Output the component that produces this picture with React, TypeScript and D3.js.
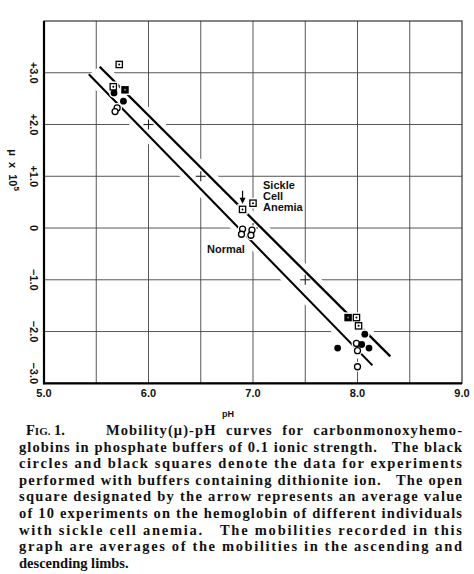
import React from 'react';
import * as d3 from 'd3';

// axes
const xTicks = [5, 6, 7, 8, 9];
const xTickLabels = ['5.0', '6.0', '7.0', '8.0', '9.0'];
const xGrid = [5.5, 6, 6.5, 7, 7.5, 8, 8.5];
const yTicks = [3, 2, 1, 0, -1, -2, -3];
const yTickLabels = ['+3.0', '+2.0', '+1.0', '0', '\u22121.0', '\u22122.0', '\u22123.0'];
const yGrid = [3, 2, 1, 0, -1, -2];

// fitted lines [pH, mobility]
const sickleLine = [[5.533, 3.115], [8.314, -2.48]];
const normalLine = [[5.429, 2.971], [8.143, -2.654]];

// measured points [pH, mobility]
const openSquares = [[5.72, 3.16], [5.663, 2.73], [6.9, 0.36], [7.0, 0.48], [7.99, -1.73], [8.01, -1.89]];
const filledSquares = [[5.775, 2.67], [7.91, -1.73]];
const filledCircles = [[5.67, 2.61], [5.76, 2.45], [8.07, -2.05], [8.04, -2.25], [7.81, -2.32], [8.11, -2.32]];
const openCircles = [
  [5.7, 2.32], [5.68, 2.25],
  [6.9, -0.02], [6.89, -0.12], [6.99, -0.04], [6.98, -0.14],
  [7.99, -2.23], [8.0, -2.37], [8.0, -2.68],
];
const bandCrosses = [[6, 2], [6.5, 1], [7, 0], [7.5, -1]];
const arrow = [6.9, 0.72, 0.47]; // pH, from, to

const captionLines = [
  'Mobility(\u03bc)-pH  curves  for  carbonmonoxyhemo-',
  'globins in phosphate buffers of 0.1 ionic strength.   The black',
  'circles and black squares denote the data for experiments',
  'performed with buffers containing dithionite ion.   The open',
  'square designated by the arrow represents an average value',
  'of 10 experiments on the hemoglobin of different individuals',
  'with sickle cell anemia.   The mobilities recorded in this',
  'graph are averages of the mobilities in the ascending and',
  'descending limbs.',
];

const W = 474;
const H = 574;
const sans = '"Liberation Sans", Arial, sans-serif';
const serif = '"Liberation Serif", "Times New Roman", serif';

const x = d3.scaleLinear().domain([5, 9]).range([44, 462]);
const y = d3.scaleLinear().domain([-3, 4]).range([383.3, 21]);

const App = () => {
  const line = d3.line<number[]>().x(d => x(d[0])).y(d => y(d[1]));

  // white band between the two lines (grid is interrupted there)
  const off = (pts: number[][], m: number) => {
    const [a, b] = pts.map(p => [x(p[0]), y(p[1])]);
    const dx = b[0] - a[0], dy = b[1] - a[1];
    const len = Math.hypot(dx, dy);
    const nx = dy / len, ny = -dx / len;
    return [[a[0] + nx * m, a[1] + ny * m], [b[0] + nx * m, b[1] + ny * m]];
  };
  const up = off(sickleLine, 6);
  const lo = off(normalLine, -6);
  const band = [up[0], up[1], lo[1], lo[0]].map(p => p.join(',')).join(' ');

  const sq = 7.5;
  const cr = 3.4;

  return (
    <svg width={W} height={H} style={{ position: 'absolute', left: 0, top: 0, background: '#fff' }}>
      <rect width={W} height={H} fill="#fff" />

      {/* grid */}
      <g stroke="#444" strokeWidth={0.9}>
        {xGrid.map(v => <line key={'gx' + v} x1={x(v)} x2={x(v)} y1={y(4)} y2={y(-3)} />)}
        {yGrid.map(v => <line key={'gy' + v} x1={x(5)} x2={x(9)} y1={y(v)} y2={y(v)} />)}
      </g>
      <polygon points={band} fill="#fff" />
      <g stroke="#222" strokeWidth={1.1}>
        {bandCrosses.map(([a, b], i) => (
          <g key={'c' + i}>
            <line x1={x(a) - 5} x2={x(a) + 5} y1={y(b)} y2={y(b)} />
            <line x1={x(a)} x2={x(a)} y1={y(b) - 5} y2={y(b) + 5} />
          </g>
        ))}
      </g>

      {/* frame */}
      <rect x={x(5)} y={y(4)} width={x(9) - x(5)} height={y(-3) - y(4)} fill="none" stroke="#222" strokeWidth={1.1} />
      <line x1={x(5)} x2={x(5)} y1={y(4)} y2={y(-3) + 1} stroke="#000" strokeWidth={2.2} />
      <line x1={x(5) - 1} x2={x(9)} y1={y(-3)} y2={y(-3)} stroke="#000" strokeWidth={2.2} />

      {/* fitted lines */}
      <path d={line(sickleLine) || ''} stroke="#000" strokeWidth={2.3} fill="none" />
      <path d={line(normalLine) || ''} stroke="#000" strokeWidth={2.1} fill="none" />

      {/* white halos cut the lines around the points */}
      <g fill="#fff" stroke="#fff" strokeWidth={3}>
        {openSquares.concat(filledSquares).map((d, i) => (
          <rect key={'hs' + i} x={x(d[0]) - sq / 2} y={y(d[1]) - sq / 2} width={sq} height={sq} />
        ))}
        {openCircles.concat(filledCircles).map((d, i) => (
          <circle key={'hc' + i} cx={x(d[0])} cy={y(d[1])} r={cr} />
        ))}
      </g>

      {/* points */}
      {openCircles.map((d, i) => (
        <circle key={'oc' + i} cx={x(d[0])} cy={y(d[1])} r={cr - 0.4} fill="#fff" stroke="#000" strokeWidth={1.3} />
      ))}
      {filledCircles.map((d, i) => (
        <circle key={'fc' + i} cx={x(d[0])} cy={y(d[1])} r={cr} fill="#000" />
      ))}
      {openSquares.map((d, i) => (
        <g key={'os' + i}>
          <rect x={x(d[0]) - sq / 2 + 0.6} y={y(d[1]) - sq / 2 + 0.6} width={sq - 1.2} height={sq - 1.2} fill="#fff" stroke="#000" strokeWidth={1.3} />
          <circle cx={x(d[0])} cy={y(d[1])} r={1} fill="#000" />
        </g>
      ))}
      {filledSquares.map((d, i) => (
        <g key={'fs' + i}>
          <rect x={x(d[0]) - sq / 2} y={y(d[1]) - sq / 2} width={sq} height={sq} fill="#000" />
          <circle cx={x(d[0])} cy={y(d[1])} r={1} fill="#888" />
        </g>
      ))}

      {/* arrow to the averaged sickle cell value */}
      <line x1={x(arrow[0])} x2={x(arrow[0])} y1={y(arrow[1])} y2={y(arrow[2]) - 3} stroke="#000" strokeWidth={1.2} />
      <path
        d={`M${x(arrow[0]) - 3},${y(arrow[2]) - 6} L${x(arrow[0]) + 3},${y(arrow[2]) - 6} L${x(arrow[0])},${y(arrow[2])} Z`}
        fill="#000"
      />

      {/* labels in the plot */}
      <g fontFamily={sans} fontSize={11} fontWeight="bold" fill="#111">
        <text x={263} y={189}>Sickle</text>
        <text x={263} y={200}>Cell</text>
        <text x={263} y={211}>Anemia</text>
        <text x={207} y={253}>Normal</text>
      </g>

      {/* x axis */}
      <g fontFamily={sans} fontSize={11} fontWeight="bold" fill="#111" textAnchor="middle">
        {xTicks.map((v, i) => (
          <text key={'xt' + v} x={x(v)} y={397}>{xTickLabels[i]}</text>
        ))}
        <text x={228} y={417} fontSize={9}>pH</text>
      </g>

      {/* y axis; the lowest label is lifted clear of the corner */}
      <g fontFamily={sans} fontSize={11} fontWeight="bold" fill="#111" textAnchor="middle">
        {yTicks.map((v, i) => (
          <text key={'yt' + v} transform={`translate(34,${y(v) - (v === -3 ? 10 : 0)}) rotate(90)`} dy="0.35em">{yTickLabels[i]}</text>
        ))}
        <text transform="translate(13,170) rotate(90)" dy="0.35em" xmlSpace="preserve">
          {'\u03bc  x  10'}
          <tspan fontSize={8} dy={-5}>5</tspan>
        </text>
      </g>

      {/* caption */}
      <g fontFamily={serif} fontSize={14.5} fontWeight="bold" fill="#111">
        <text x={26} y={435} xmlSpace="preserve">
          F<tspan fontSize={11}>IG.</tspan>{' 1.'}
        </text>
        {captionLines.map((t, i) => {
          const last = i === captionLines.length - 1;
          const x0 = i === 0 ? 106 : 19;
          return (
            <text
              key={'cap' + i}
              x={x0}
              y={435 + i * 16.6}
              xmlSpace="preserve"
              textLength={last ? undefined : 462 - x0}
              lengthAdjust="spacing"
            >
              {t}
            </text>
          );
        })}
      </g>
    </svg>
  );
};

export default App;
